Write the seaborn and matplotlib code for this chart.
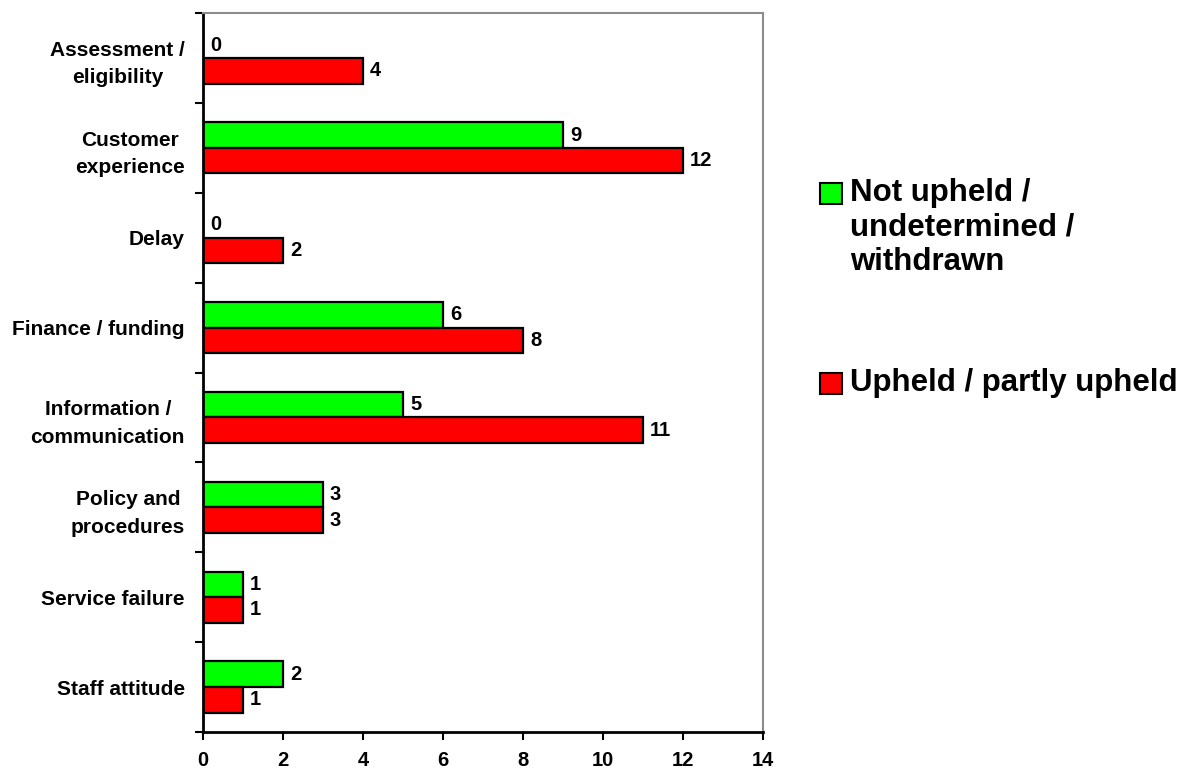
import matplotlib
matplotlib.use("Agg")
import matplotlib.pyplot as plt
import seaborn as sns
import pandas as pd
import numpy as np
from matplotlib.patches import Rectangle

categories = [
    "Assessment /\neligibility",
    "Customer\nexperience",
    "Delay",
    "Finance / funding",
    "Information /\ncommunication",
    "Policy and\nprocedures",
    "Service failure",
    "Staff attitude",
]
series_names = ["Not upheld /\nundetermined /\nwithdrawn", "Upheld / partly upheld"]
not_upheld = [0, 9, 0, 6, 5, 3, 1, 2]
upheld = [4, 12, 2, 8, 11, 3, 1, 1]
series_colors = ["#00FF00", "#FF0000"]
x_ticks = [0, 2, 4, 6, 8, 10, 12, 14]

sns.set_style("white")
plt.rcParams["font.family"] = ["Liberation Sans", "DejaVu Sans"]
plt.rcParams["font.weight"] = "bold"
plt.rcParams["text.color"] = "black"
plt.rcParams["xtick.color"] = "black"
plt.rcParams["ytick.color"] = "black"
plt.rcParams["xtick.labelcolor"] = "black"
plt.rcParams["ytick.labelcolor"] = "black"

df = pd.DataFrame({
    "category": categories * 2,
    "series": [series_names[0]] * len(categories) + [series_names[1]] * len(categories),
    "value": not_upheld + upheld,
})

fig = plt.figure(figsize=(11.85, 7.7), dpi=100)
ax = fig.add_axes([203 / 1185, 1 - 732 / 770, (763 - 203) / 1185, (732 - 13) / 770])

sns.barplot(
    data=df, y="category", x="value", hue="series", order=categories,
    hue_order=series_names, palette=series_colors, orient="h",
    width=0.57, edgecolor="black", linewidth=1.6, saturation=1,
    legend=False, ax=ax,
)

# value labels at bar ends
for container in ax.containers:
    ax.bar_label(container, fmt="%d", padding=5, fontsize=14.5,
                 fontweight="bold", color="black")

ax.set_xlim(0, 14)
ax.set_ylim(len(categories) - 0.5, -0.5)
ax.set_xticks(x_ticks)
ax.set_xticklabels([str(t) for t in x_ticks], fontsize=14.5, fontweight="bold")
ax.set_xlabel("")
ax.set_ylabel("")

# category labels centred, tick marks at category boundaries
ax.set_yticks(range(len(categories)))
ax.set_yticklabels(categories, fontsize=15, fontweight="bold",
                   multialignment="center", linespacing=1.55)
ax.set_yticks(np.arange(-0.5, len(categories), 1.0), minor=True)
ax.tick_params(axis="y", which="major", length=0, pad=13)
ax.tick_params(axis="y", which="minor", length=6, width=1.5, direction="out",
               color="black", left=True)
ax.tick_params(axis="x", which="major", length=6, width=1.5, direction="out",
               color="black", bottom=True, pad=8)

for side in ["left", "bottom"]:
    ax.spines[side].set_color("black")
    ax.spines[side].set_linewidth(2)
for side in ["top", "right"]:
    ax.spines[side].set_color("#8c8c8c")
    ax.spines[side].set_linewidth(1.5)
    ax.spines[side].set_visible(True)

# legend drawn beside the plot area
legend_rows = [183, 373]
for name, color, ytop in zip(series_names, series_colors, legend_rows):
    fig.add_artist(Rectangle((820 / 1185, 1 - (ytop + 21) / 770), 22 / 1185, 21 / 770,
                             facecolor=color, edgecolor="black", linewidth=1.5,
                             transform=fig.transFigure))
    fig.text(850 / 1185, 1 - (ytop - 5) / 770, name, fontsize=22.5, fontweight="bold",
             va="top", ha="left", linespacing=1.2, color="black")

fig.savefig("out.png", dpi=100)
